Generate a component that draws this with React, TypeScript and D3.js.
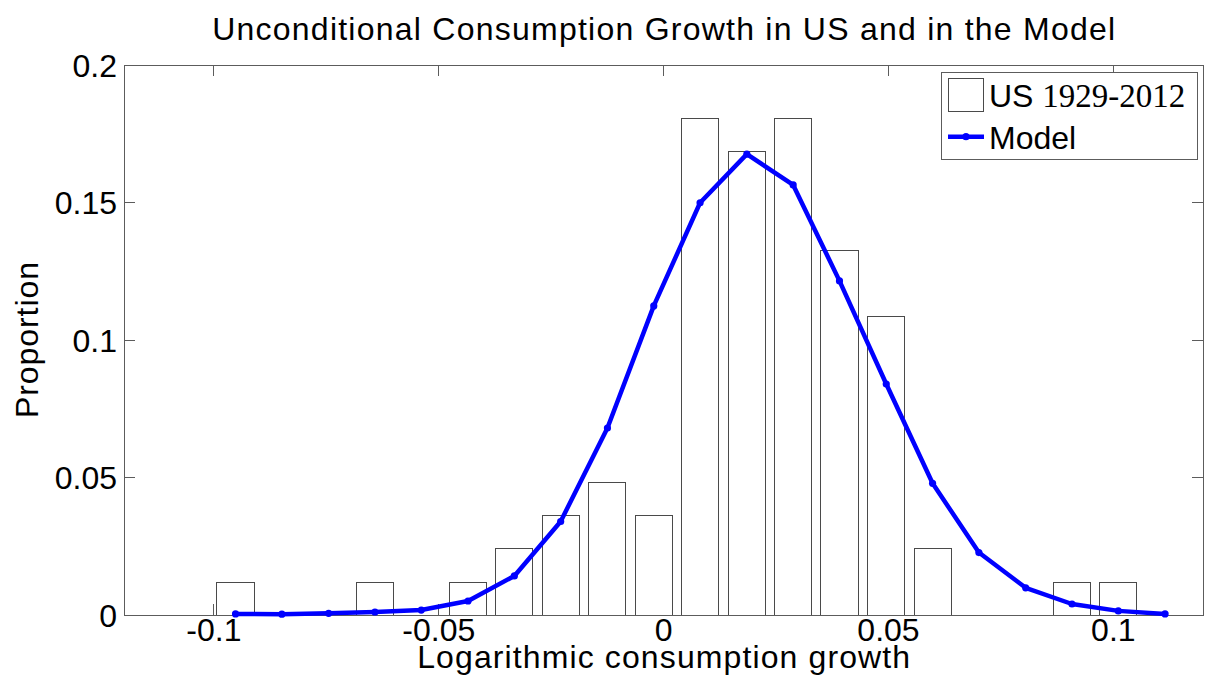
import React from 'react';
import * as d3 from 'd3';

// Bin centres (logarithmic consumption growth)
const binCenters = [
  -0.0952, -0.0849, -0.0745, -0.0642, -0.0539, -0.0435, -0.0332, -0.0229, -0.0125, -0.0022,
  0.0081, 0.0185, 0.0288, 0.0391, 0.0495, 0.0598, 0.0701, 0.0805, 0.0908, 0.1011, 0.1115,
];
// US 1929-2012 histogram proportions
const usValues = [
  0.012, 0, 0, 0.012, 0, 0.012, 0.0241, 0.0361, 0.0482, 0.0361,
  0.1807, 0.1687, 0.1807, 0.1325, 0.1084, 0.0241, 0, 0, 0.012, 0.012, 0,
];
// Model distribution
const modelValues = [
  0.0004, 0.0003, 0.0006, 0.0011, 0.0018, 0.0051, 0.0142, 0.034, 0.068, 0.1124,
  0.1499, 0.1676, 0.1564, 0.1215, 0.084, 0.0479, 0.0227, 0.0099, 0.004, 0.0015, 0.0004,
];
const xTicks = [-0.1, -0.05, 0, 0.05, 0.1];
const xTickLabels = ['-0.1', '-0.05', '0', '0.05', '0.1'];
const yTicks = [0, 0.05, 0.1, 0.15, 0.2];
const yTickLabels = ['0', '0.05', '0.1', '0.15', '0.2'];
const xDomain = [-0.12, 0.12];
const yDomain = [0, 0.2];

const W = 1206;
const H = 695;
const L = 124;
const R = 1203.3;
const T = 65;
const B = 615;
const SANS = 'Arial, "Liberation Sans", Helvetica, sans-serif';
const SERIF = '"Times New Roman", "Liberation Serif", serif';
const AX = '#5c5c5c';

export default function App() {
  const x = d3.scaleLinear().domain(xDomain).range([L, R]);
  const y = d3.scaleLinear().domain(yDomain).range([B, T]);
  const step = x(binCenters[1]) - x(binCenters[0]);
  const bw = step * 0.8;
  const line = d3
    .line<number>()
    .x((_, i) => x(binCenters[i]))
    .y((d) => y(d));
  const tickLen = 11;

  return (
    <svg
      width={W}
      height={H}
      style={{ position: 'absolute', left: 0, top: 0, background: '#fff' }}
    >
      <rect x={0} y={0} width={W} height={H} fill="#fff" />
      {/* title */}
      <text
        x={(L + R) / 2}
        y={39.5}
        textAnchor="middle"
        fontFamily={SANS}
        fontSize={32}
        textLength={903}
        lengthAdjust="spacing"
        fill="#000"
      >
        Unconditional Consumption Growth in US and in the Model
      </text>

      {/* ticks (drawn below bars) */}
      <g stroke={AX} strokeWidth={1} shapeRendering="crispEdges">
        {xTicks.map((t) => (
          <g key={'xt' + t}>
            <line x1={x(t)} x2={x(t)} y1={B} y2={B - tickLen} />
            <line x1={x(t)} x2={x(t)} y1={T} y2={T + tickLen} />
          </g>
        ))}
        {yTicks.map((t) => (
          <g key={'yt' + t}>
            <line x1={L} x2={L + tickLen} y1={y(t)} y2={y(t)} />
            <line x1={R} x2={R - tickLen} y1={y(t)} y2={y(t)} />
          </g>
        ))}
      </g>

      {/* bars */}
      <g fill="#fff" stroke="#4a4a4a" strokeWidth={1} shapeRendering="crispEdges">
        {usValues.map((v, i) =>
          v > 0 ? (
            <rect
              key={'b' + i}
              x={x(binCenters[i]) - bw / 2}
              y={y(v)}
              width={bw}
              height={y(0) - y(v)}
            />
          ) : null
        )}
      </g>

      {/* axes box */}
      <rect x={L} y={T} width={R - L} height={B - T} fill="none" stroke={AX} strokeWidth={1} shapeRendering="crispEdges" />

      {/* model line */}
      <path d={line(modelValues) || ''} fill="none" stroke="#0000ff" strokeWidth={4.5} strokeLinejoin="round" />
      {modelValues.map((v, i) => (
        <circle key={'m' + i} cx={x(binCenters[i])} cy={y(v)} r={3.6} fill="#0000ff" />
      ))}

      {/* tick labels */}
      {xTicks.map((t, i) => (
        <text key={'xl' + t} x={x(t)} y={641} textAnchor="middle" fontFamily={SANS} fontSize={32} fill="#000">
          {xTickLabels[i]}
        </text>
      ))}
      {yTicks.map((t, i) => (
        <text key={'yl' + t} x={117} y={y(t)} dy="0.36em" textAnchor="end" fontFamily={SANS} fontSize={32} fill="#000">
          {yTickLabels[i]}
        </text>
      ))}

      {/* axis labels */}
      <text
        x={(L + R) / 2}
        y={667.5}
        textAnchor="middle"
        fontFamily={SANS}
        fontSize={32}
        textLength={493}
        lengthAdjust="spacing"
        fill="#000"
      >
        Logarithmic consumption growth
      </text>
      <text
        transform={`translate(38,${(T + B) / 2}) rotate(-90)`}
        textAnchor="middle"
        fontFamily={SANS}
        fontSize={32}
        textLength={156}
        lengthAdjust="spacing"
        fill="#000"
      >
        Proportion
      </text>

      {/* legend */}
      <g>
        <rect x={941.5} y={72.5} width={256} height={87} fill="#fff" stroke={AX} strokeWidth={1} shapeRendering="crispEdges" />
        <rect x={948.5} y={78.5} width={35} height={33} fill="#fff" stroke="#4a4a4a" strokeWidth={1} shapeRendering="crispEdges" />
        <text x={989} y={106.5} fontFamily={SANS} fontSize={32} fill="#000">
          US <tspan fontFamily={SERIF} fontSize={33}>1929-2012</tspan>
        </text>
        <line x1={948} x2={984} y1={136.7} y2={136.7} stroke="#0000ff" strokeWidth={4.5} />
        <circle cx={966} cy={136.7} r={3.6} fill="#0000ff" />
        <text x={989} y={149} fontFamily={SANS} fontSize={32} fill="#000">
          Model
        </text>
      </g>
    </svg>
  );
}
